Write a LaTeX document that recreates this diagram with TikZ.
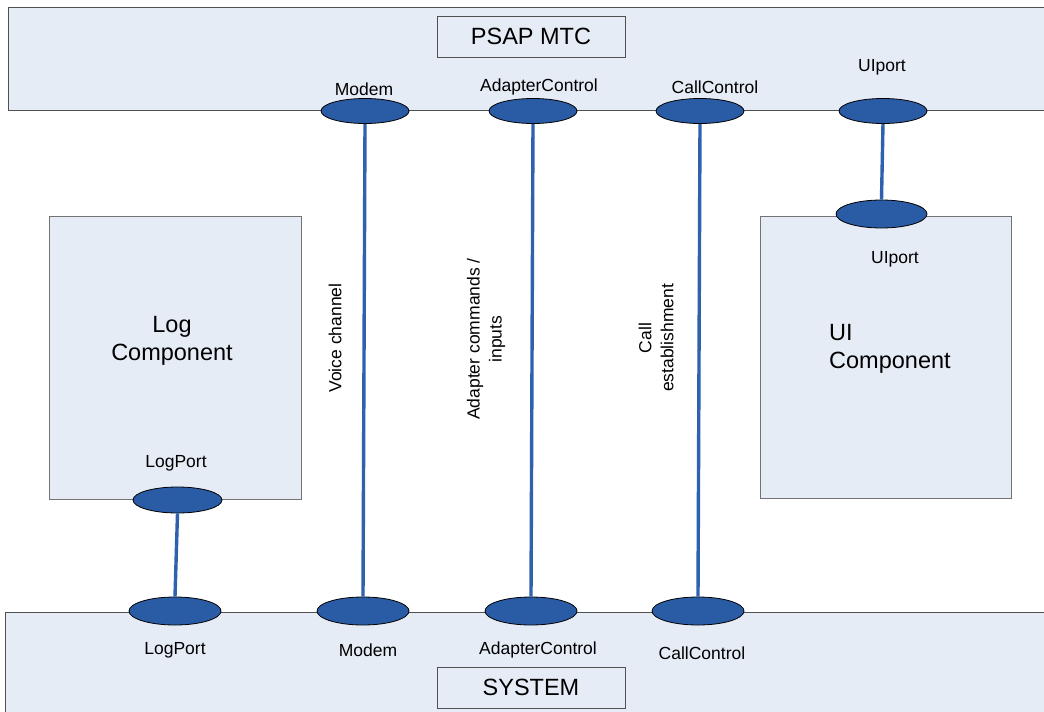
\documentclass[tikz,border=0pt]{standalone}
\usepackage{fontspec}
\setmainfont{Liberation Sans}
\usetikzlibrary{shapes.geometric}
\definecolor{panelfill}{HTML}{E6ECF6}
\definecolor{portblue}{HTML}{2A5CA6}
\definecolor{wireblue}{HTML}{2E62AE}
\definecolor{edgegray}{HTML}{505050}
\begin{document}
\begin{tikzpicture}[x=1pt,y=-1pt,
  panel/.style={draw=edgegray, line width=0.9pt, fill=panelfill, anchor=north west, inner sep=0pt},
  compbox/.style={draw=edgegray!80, line width=0.9pt, fill=panelfill, anchor=north west, inner sep=0pt},
  titlebox/.style={draw=edgegray, line width=0.9pt, fill=panelfill, minimum width=188pt, minimum height=41pt, inner sep=0pt, font=\fontsize{23.5}{28}\selectfont},
  port/.style={ellipse, draw=black, line width=0.8pt, fill=portblue, minimum width=90pt, minimum height=26pt, inner sep=0pt},
  lbl/.style={inner sep=0pt, font=\fontsize{17.5}{21}\selectfont},
  big/.style={inner sep=0pt, font=\fontsize{23.5}{27.5}\selectfont},
  vlbl/.style={inner sep=0pt, rotate=90, align=center, font=\fontsize{17.5}{22}\selectfont},
  wire/.style={draw=wireblue, line width=3.4pt}
]
\useasboundingbox (0,0) rectangle (1044,712);
\clip (0,0) rectangle (1044,712);
\fill[white] (0,0) rectangle (1044,712);

% panels
\node[panel, minimum width=1060pt, minimum height=103pt] (toppanel) at (8,7) {};
\node[panel, minimum width=1060pt, minimum height=120pt] (botpanel) at (5,612) {};
\node[titlebox] (psap) at (531,36.5) {PSAP MTC};
\node[titlebox] (system) at (531,687.5) {SYSTEM};

% components
\node[compbox, minimum width=252pt, minimum height=283pt] (logbox) at (49,216) {};
\node[compbox, minimum width=251pt, minimum height=282pt] (uibox) at (760,216) {};
\node[big, align=center] (logtxt) at (172,341) {Log\\Component};
\node[big, align=left, anchor=west] (uitxt) at (829,349) {UI\\Component};

% ports
\node[port, minimum width=88pt, minimum height=25pt] (pmodem) at (365,111) {};
\node[port, minimum width=88pt, minimum height=25pt] (padapter) at (533,111) {};
\node[port, minimum width=88pt, minimum height=25pt] (pcall) at (700,111) {};
\node[port, minimum width=88pt, minimum height=25pt] (pui) at (883,111) {};
\node[port, minimum width=91pt, minimum height=28pt] (uiport) at (881.5,214) {};
\node[port, minimum width=89pt, minimum height=26pt] (logport) at (177.5,500) {};
\node[port, minimum width=92pt, minimum height=28pt] (slog) at (175,611) {};
\node[port, minimum width=92pt, minimum height=28pt] (smodem) at (363,611) {};
\node[port, minimum width=92pt, minimum height=28pt] (sadapter) at (531,611) {};
\node[port, minimum width=92pt, minimum height=28pt] (scall) at (698,611) {};

% wires
\draw[wire] (pmodem.south) -- (smodem.north);
\draw[wire] (padapter.south) -- (sadapter.north);
\draw[wire] (pcall.south) -- (scall.north);
\draw[wire] (pui.south) -- (uiport.north);
\draw[wire] (logport.south) -- (slog.north);

% port labels
\node[lbl] (lmodem) at (364,89) {Modem};
\node[lbl] (ladapter) at (539,87) {AdapterControl};
\node[lbl] (lcall) at (715,87) {CallControl};
\node[lbl] (lui) at (882,67) {UIport};
\node[lbl] (luiport) at (895,259) {UIport};
\node[lbl] (llogport) at (176,463) {LogPort};
\node[lbl] (lslog) at (175,650) {LogPort};
\node[lbl] (lsmodem) at (368,650) {Modem};
\node[lbl] (lsadapter) at (538,650) {AdapterControl};
\node[lbl] (lscall) at (702,653) {CallControl};

% wire labels
\node[vlbl] (voice) at (335,338) {Voice channel};
\node[vlbl] (adcmd) at (486,339) {Adapter commands /\\inputs};
\node[vlbl] (callest) at (656,338) {Call\\establishment};
\end{tikzpicture}
\end{document}
